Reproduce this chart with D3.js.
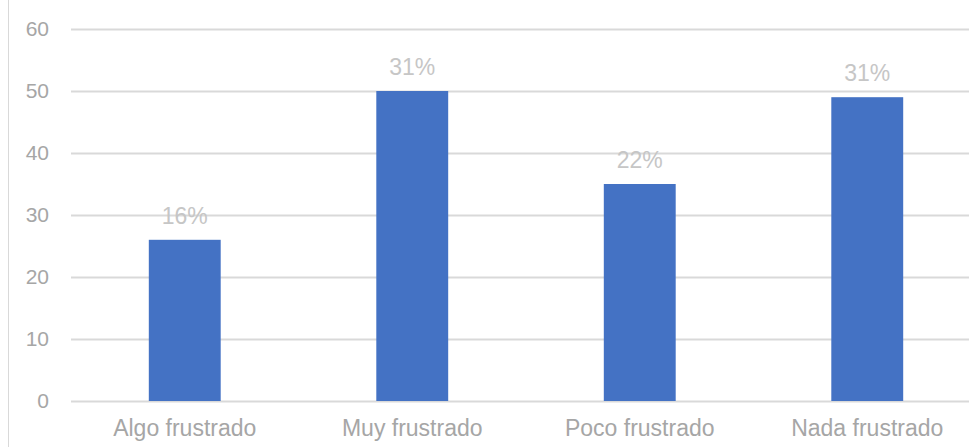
<!DOCTYPE html>
<html><head><meta charset="utf-8">
<script src="https://cdn.jsdelivr.net/npm/d3@7"></script>
<style>body{margin:0;background:#fff;}svg{display:block;}text{font-family:"Liberation Sans",Arial,sans-serif;}</style>
</head><body>
<svg id="c" width="969" height="447"></svg>
<script>
const categories = ["Algo frustrado","Muy frustrado","Poco frustrado","Nada frustrado"];
const values = [26, 50, 35, 49];
const pctLabels = ["16%","31%","22%","31%"];
const yTicks = [0,10,20,30,40,50,60];

(function(){
const svg = d3.select("#c");
const mLeft = 71, mRight = 981, mTop = 29, mBottom = 401;
const x = d3.scaleBand().domain(categories).range([mLeft, mRight]).paddingInner(0.684).paddingOuter(0.342);
const y = d3.scaleLinear().domain([0,60]).range([mBottom, mTop]);

svg.append("line").attr("x1",8.5).attr("x2",8.5).attr("y1",0).attr("y2",447)
  .attr("stroke","#d9d9d9").attr("stroke-width",1);

const yAxis = svg.append("g").attr("transform",`translate(${mLeft},0)`)
  .call(d3.axisLeft(y).tickValues(yTicks).tickSize(-(mRight-mLeft)).tickPadding(22));
yAxis.select(".domain").remove();
yAxis.selectAll(".tick line").attr("stroke","#d9d9d9").attr("stroke-width",2);
yAxis.selectAll(".tick text").attr("fill","#a6a6a6").style("font-size","21px");

svg.append("g").selectAll("rect").data(values).join("rect")
  .attr("x",(d,i)=>x(categories[i])).attr("width",x.bandwidth())
  .attr("y",d=>y(d)).attr("height",d=>y(0)-y(d)).attr("fill","#4472C4");

svg.append("g").selectAll("text").data(values).join("text")
  .attr("x",(d,i)=>x(categories[i])+x.bandwidth()/2).attr("y",d=>y(d)-16)
  .attr("text-anchor","middle").attr("fill","#c6c6c6").style("font-size","23px")
  .text((d,i)=>pctLabels[i]);

svg.append("g").selectAll("text").data(categories).join("text")
  .attr("x",d=>x(d)+x.bandwidth()/2).attr("y",436)
  .attr("text-anchor","middle").attr("fill","#a6a6a6").style("font-size","23px")
  .text(d=>d);
})();
</script>
</body></html>
